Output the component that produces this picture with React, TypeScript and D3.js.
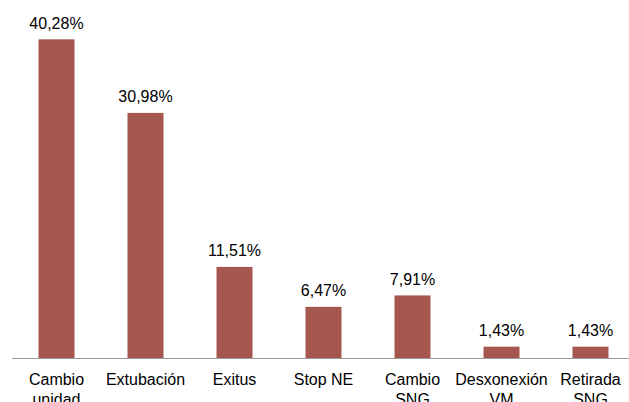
import React from "react";
import * as d3 from "d3";

const categories: string[][] = [
  ["Cambio", "unidad"],
  ["Extubación"],
  ["Exitus"],
  ["Stop NE"],
  ["Cambio", "SNG"],
  ["Desxonexión", "VM"],
  ["Retirada", "SNG"],
];
const values: number[] = [40.28, 30.98, 11.51, 6.47, 7.91, 1.43, 1.43];
const valueLabels: string[] = ["40,28%", "30,98%", "11,51%", "6,47%", "7,91%", "1,43%", "1,43%"];

const W = 629;
const H = 402;
const baseY = 358;
const font = "'Liberation Sans', Arial, Helvetica, sans-serif";

export default function App() {
  const x = d3
    .scaleBand<number>()
    .domain(values.map((_, i) => i))
    .range([12, 635]);
  const y = d3.scaleLinear().domain([0, 45]).range([baseY, 2]);
  const bw = 36;
  return (
    <svg
      width={W}
      height={H}
      style={{ position: "absolute", left: 0, top: 0, background: "#fff" }}
    >
      {values.map((v, i) => {
        const cx = (x(i) as number) + x.bandwidth() / 2;
        return (
          <g key={i}>
            <rect
              x={cx - bw / 2}
              y={y(v)}
              width={bw}
              height={baseY - y(v)}
              fill="#A5574F"
            />
            <text
              x={cx}
              y={y(v) - 10.5}
              textAnchor="middle"
              fontFamily={font}
              fontSize={16}
              fill="#000"
            >
              {valueLabels[i]}
            </text>
            {categories[i].map((line, j) => (
              <text
                key={j}
                x={cx}
                y={385 + j * 20}
                textAnchor="middle"
                fontFamily={font}
                fontSize={16}
                fill="#000"
              >
                {line}
              </text>
            ))}
          </g>
        );
      })}
      <line x1={12} x2={W} y1={baseY + 0.5} y2={baseY + 0.5} stroke="#9a9a9a" strokeWidth={1} />
    </svg>
  );
}
